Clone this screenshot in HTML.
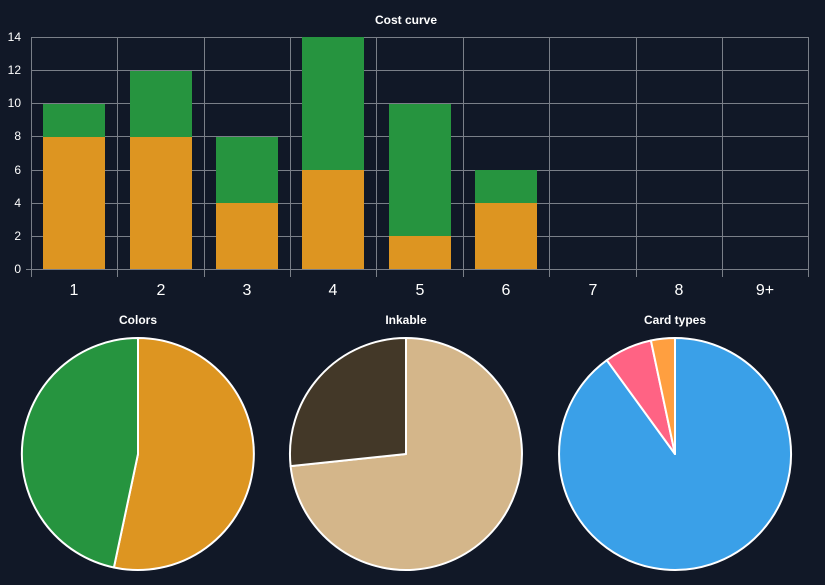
<!DOCTYPE html>
<html><head><meta charset="utf-8"><style>
html,body{margin:0;padding:0;background:#111827;}
svg{display:block;font-family:"Liberation Sans",Arial,sans-serif;}
</style></head><body>
<svg width="825" height="585" viewBox="0 0 825 585" xmlns="http://www.w3.org/2000/svg">
<rect width="825" height="585" fill="#111827"/>
<text x="406" y="24" fill="#fff" font-size="12" font-weight="bold" text-anchor="middle">Cost curve</text>
<g stroke="#7a7f88" stroke-width="1">
<line x1="31" y1="37.5" x2="808" y2="37.5"/>
<line x1="31" y1="70.5" x2="808" y2="70.5"/>
<line x1="31" y1="103.5" x2="808" y2="103.5"/>
<line x1="31" y1="136.5" x2="808" y2="136.5"/>
<line x1="31" y1="170.5" x2="808" y2="170.5"/>
<line x1="31" y1="203.5" x2="808" y2="203.5"/>
<line x1="31" y1="236.5" x2="808" y2="236.5"/>
<line x1="26" y1="269.5" x2="808" y2="269.5"/>
<line x1="31.5" y1="37" x2="31.5" y2="277"/>
<line x1="117.5" y1="37" x2="117.5" y2="277"/>
<line x1="204.5" y1="37" x2="204.5" y2="277"/>
<line x1="290.5" y1="37" x2="290.5" y2="277"/>
<line x1="376.5" y1="37" x2="376.5" y2="277"/>
<line x1="463.5" y1="37" x2="463.5" y2="277"/>
<line x1="549.5" y1="37" x2="549.5" y2="277"/>
<line x1="636.5" y1="37" x2="636.5" y2="277"/>
<line x1="722.5" y1="37" x2="722.5" y2="277"/>
<line x1="808.5" y1="37" x2="808.5" y2="277"/>
</g>
<g fill="#fff" font-size="12" text-anchor="end">
<text x="21" y="41">14</text><text x="21" y="74">12</text><text x="21" y="107">10</text>
<text x="21" y="140">8</text><text x="21" y="174">6</text><text x="21" y="207">4</text>
<text x="21" y="240">2</text><text x="21" y="273">0</text>
</g>
<g fill="#fff" font-size="16" text-anchor="middle">
<text x="74" y="295">1</text><text x="161" y="295">2</text><text x="247" y="295">3</text>
<text x="333" y="295">4</text><text x="420" y="295">5</text><text x="506" y="295">6</text>
<text x="593" y="295">7</text><text x="679" y="295">8</text><text x="765" y="295">9+</text>
</g>
<g>
<rect x="43" y="137" width="62" height="132" fill="#dd9521"/><rect x="43" y="104" width="62" height="33" fill="#26943f"/>
<rect x="130" y="137" width="62" height="132" fill="#dd9521"/><rect x="130" y="71" width="62" height="66" fill="#26943f"/>
<rect x="216" y="203" width="62" height="66" fill="#dd9521"/><rect x="216" y="137" width="62" height="66" fill="#26943f"/>
<rect x="302" y="170" width="62" height="99" fill="#dd9521"/><rect x="302" y="37" width="62" height="133" fill="#26943f"/>
<rect x="389" y="236" width="62" height="33" fill="#dd9521"/><rect x="389" y="104" width="62" height="132" fill="#26943f"/>
<rect x="475" y="203" width="62" height="66" fill="#dd9521"/><rect x="475" y="170" width="62" height="33" fill="#26943f"/>
</g>
<g fill="#fff" font-size="12" font-weight="bold" text-anchor="middle">
<text x="138" y="324">Colors</text><text x="406" y="324">Inkable</text><text x="675" y="324">Card types</text>
</g>
<g stroke="#fff" stroke-width="2" stroke-linejoin="round">
<path d="M138,454 L138,338 A116,116 0 1 1 113.9,567.5 Z" fill="#dd9521"/>
<path d="M138,454 L113.9,567.5 A116,116 0 0 1 138,338 Z" fill="#26943f"/>
<path d="M406,454 L406,338 A116,116 0 1 1 290.6,466.1 Z" fill="#d4b68a"/>
<path d="M406,454 L290.6,466.1 A116,116 0 0 1 406,338 Z" fill="#433828"/>
<path d="M675,454 L675,338 A116,116 0 1 1 606.8,360.2 Z" fill="#3aa0e8"/>
<path d="M675,454 L606.8,360.2 A116,116 0 0 1 650.9,340.5 Z" fill="#ff6384"/>
<path d="M675,454 L650.9,340.5 A116,116 0 0 1 675,338 Z" fill="#ff9f40"/>
</g>
</svg>
</body></html>
